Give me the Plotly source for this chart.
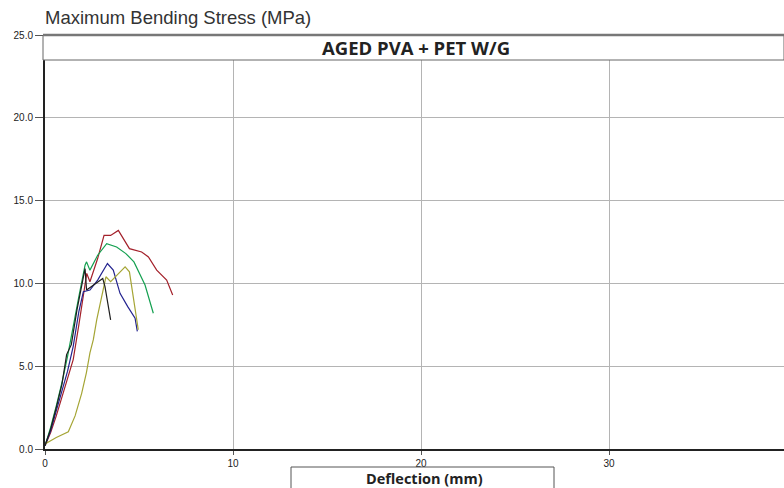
import plotly.graph_objects as go

# Data
green_x = [0, 0.3, 0.6, 0.9, 1.2, 1.5, 1.8, 2.13, 2.21, 2.39, 2.8, 3.28, 3.81, 4.3, 4.73, 5.32, 5.76]
green_y = [0.2, 1.3, 2.6, 4.0, 5.6, 7.3, 9.2, 11.1, 11.3, 10.8, 11.7, 12.4, 12.2, 11.8, 11.3, 9.9, 8.2]

red_x = [0, 0.3, 0.6, 0.9, 1.2, 1.5, 1.8, 2.1, 2.22, 2.39, 2.8, 3.14, 3.49, 3.9, 4.49, 5.14, 5.5, 5.94, 6.47, 6.79]
red_y = [0.2, 1.0, 2.0, 3.1, 4.3, 5.4, 7.5, 9.6, 10.6, 10.1, 11.5, 12.9, 12.9, 13.2, 12.1, 11.9, 11.6, 10.8, 10.2, 9.3]

blue_x = [0, 0.3, 0.6, 0.9, 1.2, 1.5, 1.8, 2.04, 2.39, 2.8, 3.32, 3.63, 3.99, 4.4, 4.79, 4.91]
blue_y = [0.2, 1.1, 2.3, 3.5, 4.7, 6.2, 8.3, 9.5, 9.6, 10.2, 11.2, 10.8, 9.4, 8.6, 7.9, 7.1]

black_x = [0, 0.3, 0.6, 0.9, 1.15, 1.4, 1.7, 2.0, 2.13, 2.21, 2.6, 3.07, 3.19, 3.49]
black_y = [0.2, 1.2, 2.5, 3.9, 5.7, 6.3, 8.4, 10.3, 10.9, 9.6, 9.9, 10.3, 9.8, 7.8]

olive_x = [0, 0.6, 1.24, 1.6, 1.95, 2.2, 2.39, 2.57, 2.75, 3.24, 3.49, 4.26, 4.49, 4.96]
olive_y = [0.3, 0.7, 1.04, 2.0, 3.36, 4.6, 5.8, 6.6, 7.8, 10.4, 10.1, 11.0, 10.7, 7.2]

x_ticks = [0, 10, 20, 30]
y_ticks = [0, 5, 10, 15, 20, 25]
y_tick_labels = ["0.0", "5.0", "10.0", "15.0", "20.0", "25.0"]

series = [
    (red_x, red_y, "#a3202a"),
    (green_x, green_y, "#14a050"),
    (blue_x, blue_y, "#23238f"),
    (olive_x, olive_y, "#a5a535"),
    (black_x, black_y, "#1e1e1e"),
]

fig = go.Figure()
for xs, ys, c in series:
    fig.add_trace(go.Scatter(x=xs, y=ys, mode="lines",
                             line=dict(color=c, width=1.2), showlegend=False))

W, H = 784, 488
L, T, B = 45, 35, 39
pw = W - L
ph = H - T - B

fig.update_layout(
    width=W, height=H,
    margin=dict(l=L, r=0, t=T, b=B, autoexpand=False),
    plot_bgcolor="white", paper_bgcolor="white",
    xaxis=dict(range=[0, 39.3], tickvals=x_ticks, ticktext=[str(v) for v in x_ticks],
               showgrid=True, gridcolor="#b4b4b4", gridwidth=1,
               zeroline=False, showline=True, linecolor="#222", linewidth=2,
               ticks="outside", ticklen=4, tickcolor="#555",
               tickfont=dict(family="Liberation Sans, Arial", size=10, color="#222")),
    yaxis=dict(range=[0, 25], tickvals=y_ticks, ticktext=y_tick_labels,
               showgrid=True, gridcolor="#b4b4b4", gridwidth=1,
               zeroline=False, showline=True, linecolor="#222", linewidth=2,
               ticks="outside", ticklen=8, tickcolor="#555",
               tickfont=dict(family="Liberation Sans, Arial", size=10, color="#222")),
)

# Title box at the top of the plot area
fig.add_shape(type="rect", xref="paper", yref="paper",
              x0=-2 / pw, x1=1.0, y0=(ph - 25) / ph, y1=1.0,
              fillcolor="white", line=dict(color="#666", width=1), layer="above")
fig.add_shape(type="line", xref="paper", yref="paper",
              x0=-2 / pw, x1=1.0, y0=1.0, y1=1.0,
              line=dict(color="#777", width=2.5), layer="above")
fig.add_annotation(xref="paper", yref="paper", x=(416.5 - L) / pw, y=(ph - 12.5) / ph,
                   text="<b>AGED PVA + PET W/G</b>", showarrow=False,
                   font=dict(family="Open Sans", size=18.5, color="#222"),
                   xanchor="center", yanchor="middle")

# Y axis title
fig.add_annotation(xref="paper", yref="paper", x=0.0, y=(ph + 18) / ph,
                   text="Maximum Bending Stress (MPa)", showarrow=False,
                   font=dict(family="Liberation Sans, Arial", size=18.5, color="#333"),
                   xanchor="left", yanchor="middle", xshift=-2)

# X axis title box
fig.add_shape(type="rect", xref="paper", yref="paper",
              x0=(291 - L) / pw, x1=(554 - L) / pw, y0=-(18 / ph), y1=-(50 / ph),
              fillcolor="white", line=dict(color="#555", width=1))
fig.add_annotation(xref="paper", yref="paper", x=(424 - L) / pw, y=-(29.5 / ph),
                   text="<b>Deflection (mm)</b>", showarrow=False,
                   font=dict(family="Open Sans", size=14.5, color="#222"),
                   xanchor="center", yanchor="middle")

fig.write_html("out.html", config={"displayModeBar": False})

# remove default page margin so the figure sits at the window's top-left corner
with open("out.html", "r", encoding="utf-8") as f:
    html = f.read()
html = html.replace("<head>", "<head><style>html,body{margin:0;padding:0;overflow:hidden;}</style>", 1)
with open("out.html", "w", encoding="utf-8") as f:
    f.write(html)
